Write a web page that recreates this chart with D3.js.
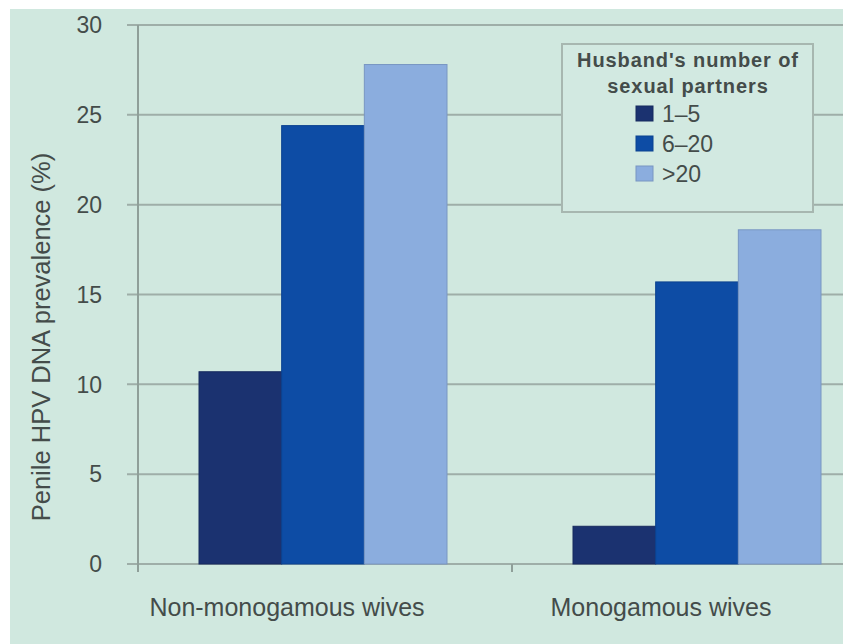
<!DOCTYPE html>
<html>
<head>
<meta charset="utf-8">
<script src="https://cdn.jsdelivr.net/npm/d3@7"></script>
<style>
  body { margin: 0; background: #fff; }
  text { font-family: "Liberation Sans", Arial, sans-serif; fill: #444c4a; }
</style>
</head>
<body>
<div id="chart"></div>
<script>
var categories = ['Non-monogamous wives', 'Monogamous wives'],
  series = ['1\u20135', '6\u201320', '>20'],
  values15 = [10.7, 2.1],
  values620 = [24.4, 15.7],
  values20 = [27.8, 18.6],
  yTicks = [0, 5, 10, 15, 20, 25, 30],
  legendTitle = ["Husband's number of", 'sexual partners'],
  yTitle = 'Penile HPV DNA prevalence (%)';

var colors = ['#1b3270', '#0d4ca5', '#8badde'],
  strokes = ['#162a5e', '#0b4290', '#7896c2'];

var width = 843,
  height = 644,
  mLeft = 138,
  mTop = 25,
  mBottom = 564,
  bandW = 374;

var rows = categories.map(function (c, i) {
  return {cat: c, vals: [values15[i], values620[i], values20[i]]};
});

var svg = d3.select('#chart').append('svg')
  .attr('width', width).attr('height', height);

svg.append('rect')
  .attr('x', 10).attr('y', 9)
  .attr('width', width - 10).attr('height', height - 9)
  .style('fill', '#d0e8df');

var x = d3.scaleBand().domain(categories).range([mLeft, mLeft + 2 * bandW]);
var xs = d3.scaleBand().domain(series).range([61, 61 + 248]);
var y = d3.scaleLinear().domain([0, 30]).range([mBottom, mTop]);

// gridlines
svg.append('g')
  .selectAll('line')
  .data(yTicks)
  .enter()
  .append('line')
  .attr('x1', mLeft - 11)
  .attr('x2', width)
  .attr('y1', function (d) { return y(d); })
  .attr('y2', function (d) { return y(d); })
  .style('stroke', '#9eaea8')
  .style('stroke-width', 2);

svg.append('g')
  .selectAll('text')
  .data(yTicks)
  .enter()
  .append('text')
  .attr('x', mLeft - 36)
  .attr('y', function (d) { return y(d); })
  .attr('dy', '0.36em')
  .attr('text-anchor', 'end')
  .style('font-size', '23px')
  .text(function (d) { return d; });

// legend box hides gridlines
var lg = svg.append('g').attr('transform', 'translate(562,44)');
lg.append('rect')
  .attr('width', 251).attr('height', 168)
  .style('fill', '#d2e9e1')
  .style('stroke', '#a7b7b0')
  .style('stroke-width', 2);

// bars
var groups = svg.append('g')
  .selectAll('g')
  .data(rows)
  .enter()
  .append('g')
  .attr('transform', function (d) { return 'translate(' + x(d.cat) + ',0)'; });

groups.selectAll('rect')
  .data(function (d) { return d.vals; })
  .enter()
  .append('rect')
  .attr('x', function (d, i) { return xs(series[i]); })
  .attr('width', xs.bandwidth())
  .attr('y', function (d) { return y(d); })
  .attr('height', function (d) { return mBottom - y(d); })
  .style('fill', function (d, i) { return colors[i]; })
  .style('stroke', function (d, i) { return strokes[i]; })
  .style('stroke-width', 1);

// axes lines
svg.append('line')
  .attr('x1', mLeft).attr('x2', mLeft)
  .attr('y1', mTop).attr('y2', mBottom + 8)
  .style('stroke', '#8f9f99').style('stroke-width', 2);

svg.append('line')
  .attr('x1', mLeft + bandW).attr('x2', mLeft + bandW)
  .attr('y1', mBottom).attr('y2', mBottom + 8)
  .style('stroke', '#8f9f99').style('stroke-width', 2);

svg.append('g')
  .selectAll('text')
  .data(categories)
  .enter()
  .append('text')
  .attr('x', function (d) { return x(d) + x.bandwidth() / 2 - 38; })
  .attr('y', 616)
  .attr('text-anchor', 'middle')
  .style('font-size', '25px')
  .text(function (d) { return d; });

svg.append('text')
  .attr('transform', 'translate(50,337) rotate(-90)')
  .attr('text-anchor', 'middle')
  .style('font-size', '25.5px')
  .text(yTitle);

// legend content
lg.selectAll('text.title')
  .data(legendTitle)
  .enter()
  .append('text')
  .attr('class', 'title')
  .attr('x', 126)
  .attr('y', function (d, i) { return 23 + i * 26; })
  .attr('text-anchor', 'middle')
  .style('font-size', '20px')
  .style('letter-spacing', '0.9px')
  .style('font-weight', 'bold')
  .text(function (d) { return d; });

var items = lg.selectAll('g.item')
  .data(series)
  .enter()
  .append('g')
  .attr('class', 'item')
  .attr('transform', function (d, i) { return 'translate(74,' + (62 + i * 30) + ')'; });

items.append('rect')
  .attr('width', 17).attr('height', 15)
  .style('fill', function (d, i) { return colors[i]; })
  .style('stroke', function (d, i) { return strokes[i]; });

items.append('text')
  .attr('x', 26)
  .attr('y', 16)
  .style('font-size', '23px')
  .text(function (d) { return d; });
</script>
</body>
</html>
